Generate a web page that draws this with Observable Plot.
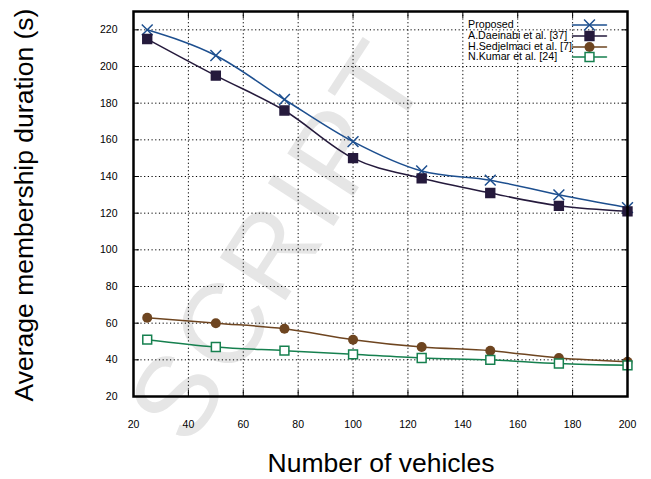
<!DOCTYPE html>
<html><head><meta charset="utf-8">
<script src="https://cdn.jsdelivr.net/npm/d3@7"></script>
<script src="https://cdn.jsdelivr.net/npm/@observablehq/plot@0.6"></script>
<style>
body{margin:0;background:#fff;font-family:"Liberation Sans",Arial,sans-serif;}
#wrap{position:relative;width:651px;height:479px;overflow:hidden;}
#wm{position:absolute;left:278px;top:240px;transform:translate(-50%,-50%) rotate(-57deg);font-size:114px;color:#e6e6e6;white-space:nowrap;z-index:0;letter-spacing:5px;line-height:1;}
#chart{position:absolute;left:0;top:0;z-index:1;}
#ylab{position:absolute;left:24px;top:205px;transform:translate(-50%,-50%) rotate(-90deg);font-size:26.5px;line-height:1;white-space:nowrap;z-index:2;}
#xlab{position:absolute;left:381px;top:463px;transform:translate(-50%,-50%);font-size:26.5px;line-height:1;white-space:nowrap;z-index:2;}
#legend{position:absolute;left:468px;top:19px;z-index:2;font-size:10.7px;line-height:11px;}
#legend .row{position:relative;height:10.8px;width:140px;}
#legend .lab{position:absolute;left:0;top:0;white-space:nowrap;}
#legend svg{position:absolute;left:104px;top:0;}
</style></head>
<body><div id="wrap"><div id="wm">SCRIPT</div><div id="chart"></div>
<div id="ylab">Average membership duration (s)</div>
<div id="xlab">Number of vehicles</div>
<div id="legend"></div></div>
<script>
const vehicles = [25, 50, 75, 100, 125, 150, 175, 200];
const proposed = [220, 206, 182, 159, 143, 138, 130, 123];
const daeinabi = [215, 195, 176, 150, 139, 131, 124, 121];
const sedjelmaci = [63, 60, 57, 51, 47, 45, 41, 39];
const kumar = [51, 47, 45, 43, 41, 40, 38, 37];
const seriesNames = ["Proposed", "A.Daeinabi et al. [37]", "H.Sedjelmaci et al. [7]", "N.Kumar et al. [24]"];
const xTicks = [20, 40, 60, 80, 100, 120, 140, 160, 180, 200];
const yTicks = [20, 40, 60, 80, 100, 120, 140, 160, 180, 200, 220];

const colors = ["#1d4f8f", "#251a3c", "#6e4520", "#16804f"];
const symbols = ["times", "square", "circle", "square"];
const fills = [c => "none", c => c, c => c, c => "white"];
const values = [proposed, daeinabi, sedjelmaci, kumar];
const data = [];
values.forEach((vals, s) => vals.forEach((v, i) => data.push({x: vehicles[i], y: v, s})));

const marks = [
  Plot.gridX(xTicks.slice(1, -1), {stroke: "#000", strokeOpacity: 1, strokeDasharray: "1.2,2.5", strokeWidth: 1}),
  Plot.gridY(yTicks.slice(1), {stroke: "#000", strokeOpacity: 1, strokeDasharray: "1.2,2.5", strokeWidth: 1}),
  Plot.axisX(xTicks, {anchor: "bottom", label: null, tickSize: -6, tickPadding: 30, fontSize: 10.5, fill: "#000"}),
  Plot.axisX(xTicks, {anchor: "top", label: null, tickSize: -6, tickFormat: () => ""}),
  Plot.axisY(yTicks, {anchor: "left", label: null, tickSize: -6, tickPadding: 22, fontSize: 10.5, fill: "#000"}),
  Plot.axisY(yTicks, {anchor: "right", label: null, tickSize: -6, tickFormat: () => ""}),
];
values.forEach((vals, s) => {
  const d = data.filter(e => e.s === s);
  marks.push(Plot.line(d, {x: "x", y: "y", stroke: colors[s], strokeWidth: 1.5, curve: "monotone-x"}));
  marks.push(Plot.dot(d, {x: "x", y: "y", symbol: symbols[s], r: 5, stroke: colors[s], strokeWidth: s === 2 ? 0 : 1.5, fill: fills[s](colors[s])}));
});
marks.push(Plot.frame({stroke: "#000", strokeWidth: 2.5}));

const chart = Plot.plot({
  width: 651, height: 479,
  marginLeft: 133, marginRight: 24, marginTop: 11, marginBottom: 83,
  style: {background: "transparent", fontFamily: "Liberation Sans, Arial, sans-serif", fontSize: "10.5px", color: "#000"},
  x: {domain: [20, 200], axis: null, label: null},
  y: {domain: [20, 230], axis: null, label: null},
  marks
});
document.getElementById("chart").appendChild(chart);

const leg = document.getElementById("legend");
seriesNames.forEach((name, s) => {
  const row = document.createElement("div");
  row.className = "row";
  const lab = document.createElement("div");
  lab.className = "lab";
  lab.textContent = name;
  row.appendChild(lab);
  const sw = Plot.plot({
    width: 34, height: 11, margin: 0,
    style: {background: "transparent", overflow: "visible"},
    x: {domain: [0, 2], axis: null}, y: {domain: [0, 1], axis: null},
    marks: [
      Plot.lineY([0.5, 0.5, 0.5], {x: (d, i) => i, y: d => d, stroke: colors[s], strokeWidth: 1.5}),
      Plot.dot([1], {x: d => d, y: 0.5, symbol: symbols[s], r: 5, stroke: colors[s], strokeWidth: s === 2 ? 0 : 1.5, fill: fills[s](colors[s])})
    ]
  });
  row.appendChild(sw);
  leg.appendChild(row);
});
</script></body></html>
